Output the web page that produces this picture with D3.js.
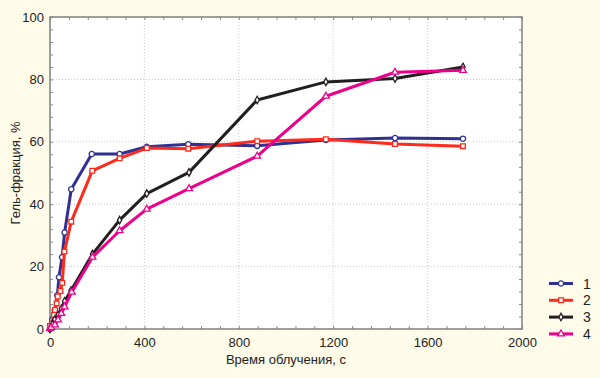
<!DOCTYPE html>
<html>
    <head>
        <meta charset="utf-8">
        <title>Гель-фракция</title>
        <script type="text/javascript" src="https://cdn.jsdelivr.net/npm/d3@7"></script>
        <style type="text/css">
            body {
                margin: 0;
                background: #fefbe9;
            }
            text {
                font-family: "Liberation Sans", Arial, sans-serif;
                fill: #222;
            }
        </style>
    </head>
    <body>
        <script type="text/javascript">
            // Width and height
            var w = 600;
            var h = 378;
            var margin = {top: 17, right: 78, bottom: 49, left: 50};

            // Data (time, s / gel fraction, %)
            var t1 = [0, 10, 20, 31, 38, 51, 62, 90, 177, 295, 410, 586, 878, 1169, 1462, 1750];
            var v1 = [0, 3, 6, 10.8, 16.6, 23, 30.9, 44.8, 56.1, 56.1, 58.4, 59.2, 58.7, 60.6, 61.2, 61];

            var t2 = [0, 8, 17, 21, 28, 33, 44, 52, 61, 90, 179, 295, 410, 586, 878, 1169, 1462, 1750];
            var v2 = [1, 1.8, 4.5, 6.1, 8.2, 10.4, 12.2, 14.8, 24.8, 34.4, 50.7, 54.7, 58, 57.8, 60.2, 60.8, 59.3, 58.6];

            var t3 = [0, 10, 20, 34, 48, 62, 89, 180, 295, 410, 589, 878, 1169, 1462, 1750];
            var v3 = [0, 1.5, 3, 4.5, 6.5, 8.9, 12.3, 24, 34.9, 43.4, 50.2, 73.4, 79.2, 80.3, 84];

            var t4 = [0, 5, 21, 34, 48, 62, 92, 180, 295, 410, 589, 878, 1169, 1462, 1750];
            var v4 = [0.2, 0.5, 1.3, 2.9, 5, 7.1, 11.8, 23, 31.5, 38.4, 45, 55.4, 74.6, 82.3, 82.9];

            var seriesNames = ["1", "2", "3", "4"];
            var seriesColors = ["#2e3192", "#ff2a1c", "#231f20", "#ec008c"];
            var seriesSymbols = [d3.symbolCircle, d3.symbolSquare, d3.symbolDiamond, d3.symbolTriangle];
            var symbolSizes = [22, 22, 16, 20];

            var xTicks = [0, 400, 800, 1200, 1600, 2000];
            var yTicks = [0, 20, 40, 60, 80, 100];

            var allSeries = [[t1, v1], [t2, v2], [t3, v3], [t4, v4]].map(function(s, i) {
                return {
                    name: seriesNames[i],
                    color: seriesColors[i],
                    symbol: seriesSymbols[i],
                    size: symbolSizes[i],
                    points: s[0].map(function(t, j) { return [t, s[1][j]]; })
                };
            });

            // Scales
            var xScale = d3.scaleLinear()
                            .domain([0, 2000])
                            .range([margin.left, w - margin.right]);

            var yScale = d3.scaleLinear()
                            .domain([0, 100])
                            .range([h - margin.bottom, margin.top]);

            var svg = d3.select("body")
                        .append("svg")
                        .attr("width", w)
                        .attr("height", h);

            // Plot background
            svg.append("rect")
                .attr("x", xScale(0))
                .attr("y", yScale(100))
                .attr("width", xScale(2000) - xScale(0))
                .attr("height", yScale(0) - yScale(100))
                .attr("fill", "#ffffff");

            // Dotted grid
            svg.append("g")
                .selectAll("line")
                .data(xTicks.slice(1, -1))
                .enter()
                .append("line")
                .attr("x1", function(d) { return xScale(d); })
                .attr("x2", function(d) { return xScale(d); })
                .attr("y1", yScale(0))
                .attr("y2", yScale(100))
                .attr("stroke", "#c8c8c8")
                .attr("stroke-dasharray", "1,2");

            svg.append("g")
                .selectAll("line")
                .data(yTicks.slice(1, -1))
                .enter()
                .append("line")
                .attr("x1", xScale(0))
                .attr("x2", xScale(2000))
                .attr("y1", function(d) { return yScale(d); })
                .attr("y2", function(d) { return yScale(d); })
                .attr("stroke", "#c8c8c8")
                .attr("stroke-dasharray", "1,2");

            // Axes with inner ticks (minor every 1/5 of major)
            var xMinor = d3.range(0, 2001, 80);
            var yMinor = d3.range(0, 101, 4);

            function tickAxis(axis, scale, values, size) {
                return axis(scale).tickValues(values).tickSize(size).tickFormat("");
            }

            svg.append("g")
                .attr("transform", "translate(0," + yScale(0) + ")")
                .call(tickAxis(d3.axisTop, xScale, xMinor, 3));
            svg.append("g")
                .attr("transform", "translate(0," + yScale(100) + ")")
                .call(tickAxis(d3.axisBottom, xScale, xMinor, 3));
            svg.append("g")
                .attr("transform", "translate(" + xScale(0) + ",0)")
                .call(tickAxis(d3.axisRight, yScale, yMinor, 3));
            svg.append("g")
                .attr("transform", "translate(" + xScale(2000) + ",0)")
                .call(tickAxis(d3.axisLeft, yScale, yMinor, 3));

            svg.selectAll(".domain").remove();
            svg.selectAll(".tick line").attr("stroke", "#888");

            // Tick labels
            var xAxis = d3.axisBottom(xScale).tickValues(xTicks).tickFormat(d3.format("d")).tickSize(0).tickPadding(9);
            var yAxis = d3.axisLeft(yScale).tickValues(yTicks).tickFormat(d3.format("d")).tickSize(0).tickPadding(6);

            var gx = svg.append("g")
                .attr("transform", "translate(0," + yScale(0) + ")")
                .call(xAxis);
            var gy = svg.append("g")
                .attr("transform", "translate(" + xScale(0) + ",0)")
                .call(yAxis);
            gx.select(".domain").remove();
            gy.select(".domain").remove();
            svg.selectAll(".tick text")
                .attr("font-size", 13)
                .attr("font-family", "'Liberation Sans', Arial, sans-serif")
                .attr("fill", "#222");

            // Frame
            svg.append("rect")
                .attr("x", xScale(0))
                .attr("y", yScale(100))
                .attr("width", xScale(2000) - xScale(0))
                .attr("height", yScale(0) - yScale(100))
                .attr("fill", "none")
                .attr("stroke", "#808080")
                .attr("stroke-width", 1.5);

            // Lines
            var line = d3.line()
                .x(function(d) { return xScale(d[0]); })
                .y(function(d) { return yScale(d[1]); });

            var groups = svg.selectAll(".series")
                .data(allSeries)
                .enter()
                .append("g")
                .attr("class", "series");

            groups.append("path")
                .attr("d", function(d) { return line(d.points); })
                .attr("fill", "none")
                .attr("stroke", function(d) { return d.color; })
                .attr("stroke-width", 3)
                .attr("stroke-linejoin", "round");

            groups.each(function(s) {
                d3.select(this).selectAll("path.marker")
                    .data(s.points)
                    .enter()
                    .append("path")
                    .attr("class", "marker")
                    .attr("transform", function(d) {
                        return "translate(" + xScale(d[0]) + "," + yScale(d[1]) + ")";
                    })
                    .attr("d", d3.symbol().type(s.symbol).size(s.size))
                    .attr("fill", "#fff")
                    .attr("stroke", s.color)
                    .attr("stroke-width", 1.3);
            });

            // Axis titles
            svg.append("text")
                .attr("x", (xScale(0) + xScale(2000)) / 2)
                .attr("y", 364)
                .attr("text-anchor", "middle")
                .attr("font-size", 13)
                .text("Время облучения, с");

            svg.append("text")
                .attr("transform", "translate(20," + ((yScale(0) + yScale(100)) / 2) + ") rotate(-90)")
                .attr("text-anchor", "middle")
                .attr("font-size", 13)
                .text("Гель-фракция, %");

            // Legend
            var legend = svg.selectAll(".legend")
                .data(allSeries)
                .enter()
                .append("g")
                .attr("class", "legend")
                .attr("transform", function(d, i) {
                    return "translate(549," + (283.5 + i * 16.8) + ")";
                });

            legend.append("line")
                .attr("x1", 0)
                .attr("x2", 24)
                .attr("stroke", function(d) { return d.color; })
                .attr("stroke-width", 3);

            legend.append("path")
                .attr("transform", "translate(12,0)")
                .attr("d", function(d) { return d3.symbol().type(d.symbol).size(d.size)(); })
                .attr("fill", "#fff")
                .attr("stroke", function(d) { return d.color; })
                .attr("stroke-width", 1.3);

            legend.append("text")
                .attr("x", 34)
                .attr("y", 5)
                .attr("font-size", 14)
                .text(function(d) { return d.name; });
        </script>
    </body>
</html>
